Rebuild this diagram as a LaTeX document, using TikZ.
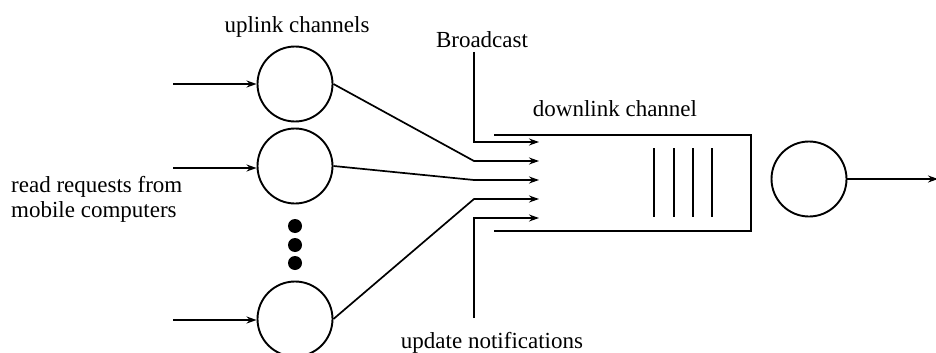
\documentclass[tikz,border=0pt]{standalone}
\usepackage{fontspec}
\setmainfont{Liberation Serif}
\usetikzlibrary{arrows.meta}
\begin{document}
\begin{tikzpicture}[x=1pt,y=-1pt,
  station/.style={draw,circle,minimum size=75pt,inner sep=0pt,line width=1.9pt},
  conn/.style={line width=1.7pt},
  arr/.style={conn,-{Stealth[length=10pt,width=7pt]}},
  lbl/.style={font=\fontsize{23}{25}\selectfont,inner sep=0pt},
  dot/.style={fill,circle,minimum size=14pt,inner sep=0pt}]
\useasboundingbox (0,0) rectangle (936,353);
\clip (0,0) rectangle (936,353);

% uplink stations
\node[station] (u1) at (295,84) {};
\node[station] (u2) at (295,166) {};
\node[station] (u3) at (295,319) {};
\node[dot] (d1) at (295,226) {};
\node[dot] (d2) at (295,245) {};
\node[dot] (d3) at (295,263) {};

% incoming requests
\coordinate (i1) at (173,84);
\coordinate (i2) at (173,168);
\coordinate (i3) at (173,320);
\draw[arr] (i1) -- (u1);
\draw[arr] (i2) -- (u2.west |- i2);
\draw[arr] (i3) -- (u3.west |- i3);

% merge points in front of the queue
\coordinate (b0) at (474,52);
\coordinate (m0) at (474,142);
\coordinate (m1) at (474,161);
\coordinate (m2) at (474,180);
\coordinate (m3) at (474,199);
\coordinate (m4) at (474,218);
\coordinate (n4) at (474,318);
\coordinate (t0) at (539,142);
\coordinate (t1) at (539,161);
\coordinate (t2) at (539,180);
\coordinate (t3) at (539,199);
\coordinate (t4) at (539,218);

\draw[arr] (b0) -- (m0) -- (t0);
\draw[arr] (u1.east) -- (m1) -- (t1);
\draw[arr] (u2.east) -- (m2) -- (t2);
\draw[arr] (u3.east) -- (m3) -- (t3);
\draw[arr] (n4) -- (m4) -- (t4);

% downlink queue
\coordinate (q1) at (494,135);
\coordinate (q2) at (751,135);
\coordinate (q3) at (751,231);
\coordinate (q4) at (494,231);
\draw[conn] (q1) -- (q2) -- (q3) -- (q4);
\foreach \x in {654,674,693,712}
  \draw[conn] (\x,148) -- (\x,217);

% downlink server
\node[station] (srv) at (809,179) {};
\coordinate (out) at (938,179);
\draw[arr] (srv) -- (out);

% labels
\node[lbl] (l1) at (297,27) {uplink channels};
\node[lbl] (l2) at (482,40) {Broadcast};
\node[lbl] (l3) at (615,109) {downlink channel};
\node[lbl] (l4) at (492,343) {update notifications};
\node[lbl,align=left,anchor=west] (l5) at (11,199) {read requests from\\mobile computers};
\end{tikzpicture}
\end{document}
